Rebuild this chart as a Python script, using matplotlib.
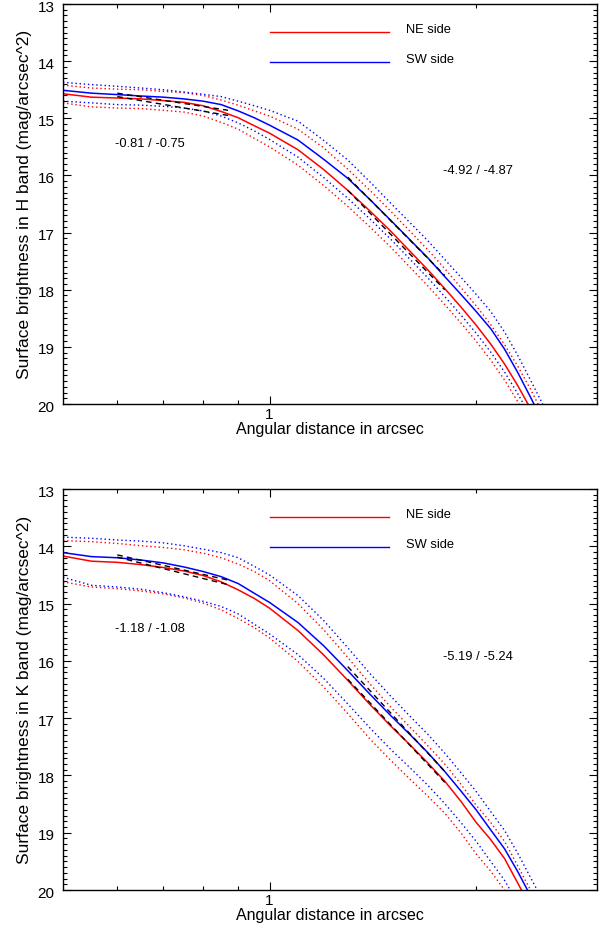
import numpy as np
import matplotlib.pyplot as plt
from matplotlib.ticker import FixedLocator, FixedFormatter, MultipleLocator
from matplotlib.transforms import ScaledTranslation

plt.rcParams['font.family'] = ['Liberation Sans', 'DejaVu Sans']

# radius grid (arcsec), shared by all profiles
radius = [0.5, 0.55, 0.6, 0.65, 0.7, 0.75, 0.8, 0.85, 0.9, 0.95, 1.0,
          1.1, 1.2, 1.3, 1.4, 1.5, 1.6, 1.7, 1.8, 1.9, 2.0, 2.1, 2.2, 2.3, 2.4, 2.5]

# H band (mag/arcsec^2)
h_ne = [14.57, 14.63, 14.645, 14.66, 14.69, 14.72, 14.78, 14.88, 14.99, 15.13, 15.26,
        15.55, 15.90, 16.26, 16.62, 16.97, 17.32, 17.65, 17.98, 18.30, 18.62, 18.95, 19.30, 19.68, 20.08, 20.5]
h_sw = [14.51, 14.56, 14.585, 14.61, 14.63, 14.66, 14.70, 14.76, 14.87, 14.99, 15.12,
        15.38, 15.72, 16.05, 16.42, 16.78, 17.12, 17.44, 17.77, 18.08, 18.38, 18.68, 19.04, 19.45, 19.88, 20.3]
h_ne_hi = [14.42, 14.47, 14.49, 14.50, 14.53, 14.55, 14.60, 14.68, 14.77, 14.87, 14.96,
           15.19, 15.52, 15.89, 16.26, 16.62, 16.97, 17.30, 17.63, 17.96, 18.28, 18.61, 18.96, 19.34, 19.74, 20.16]
h_ne_lo = [14.73, 14.80, 14.82, 14.83, 14.86, 14.89, 14.96, 15.07, 15.19, 15.35, 15.50,
           15.82, 16.18, 16.54, 16.90, 17.25, 17.60, 17.93, 18.26, 18.58, 18.90, 19.23, 19.58, 19.96, 20.36, 20.78]
h_sw_hi = [14.37, 14.41, 14.44, 14.47, 14.50, 14.54, 14.58, 14.62, 14.70, 14.78, 14.86,
           15.05, 15.39, 15.73, 16.11, 16.48, 16.82, 17.14, 17.47, 17.78, 18.08, 18.38, 18.74, 19.15, 19.58, 20.0]
h_sw_lo = [14.70, 14.73, 14.76, 14.77, 14.79, 14.82, 14.87, 14.96, 15.08, 15.22, 15.37,
           15.68, 16.04, 16.40, 16.76, 17.11, 17.46, 17.79, 18.12, 18.44, 18.76, 19.09, 19.44, 19.82, 20.22, 20.64]

# K band (mag/arcsec^2)
k_ne = [14.17, 14.26, 14.28, 14.32, 14.37, 14.43, 14.51, 14.62, 14.76, 14.91, 15.08,
        15.47, 15.90, 16.34, 16.76, 17.13, 17.46, 17.78, 18.10, 18.45, 18.82, 19.12, 19.45, 19.88, 20.3, 20.7]
k_sw = [14.11, 14.18, 14.20, 14.24, 14.29, 14.36, 14.44, 14.53, 14.65, 14.82, 14.98,
        15.33, 15.74, 16.17, 16.58, 16.95, 17.28, 17.60, 17.93, 18.27, 18.60, 18.95, 19.28, 19.68, 20.1, 20.5]
k_ne_hi = [13.90, 13.92, 13.95, 13.99, 14.02, 14.06, 14.12, 14.20, 14.31, 14.44, 14.60,
           15.00, 15.46, 15.94, 16.40, 16.80, 17.15, 17.48, 17.80, 18.15, 18.52, 18.82, 19.15, 19.58, 20.0, 20.4]
k_ne_lo = [14.62, 14.71, 14.74, 14.78, 14.83, 14.90, 14.99, 15.11, 15.26, 15.42, 15.60,
           16.01, 16.46, 16.92, 17.36, 17.73, 18.06, 18.36, 18.66, 19.00, 19.37, 19.67, 20.00, 20.43, 20.85, 21.25]
k_sw_hi = [13.84, 13.86, 13.89, 13.91, 13.94, 13.99, 14.05, 14.11, 14.20, 14.35, 14.50,
           14.86, 15.30, 15.77, 16.22, 16.61, 16.96, 17.28, 17.61, 17.95, 18.28, 18.63, 18.96, 19.36, 19.78, 20.18]
k_sw_lo = [14.54, 14.68, 14.71, 14.75, 14.81, 14.88, 14.96, 15.05, 15.18, 15.36, 15.53,
           15.89, 16.31, 16.75, 17.17, 17.54, 17.86, 18.17, 18.49, 18.82, 19.15, 19.50, 19.83, 20.23, 20.65, 21.05]

# power-law fits: radius range and end magnitudes
fit_in_r = [0.6, 0.87]
fit_out_r = [1.3, 1.8]
h_fits = {'ne_in': [14.62, 14.95], 'sw_in': [14.56, 14.86],
          'ne_out': [16.26, 18.00], 'sw_out': [16.03, 17.75]}
k_fits = {'ne_in': [14.19, 14.67], 'sw_in': [14.15, 14.59],
          'ne_out': [16.32, 18.12], 'sw_out': [16.10, 17.93]}

h_slopes = ['-0.81 / -0.75', '-4.92 / -4.87']
k_slopes = ['-1.18 / -1.08', '-5.19 / -5.24']

dot = (0, (1, 2))
dash = (0, (4, 3))

fig = plt.figure(figsize=(6.15, 9.35), dpi=100)


def panel(rect, band, ne, sw, ne_hi, ne_lo, sw_hi, sw_lo, fits, slopes):
    ax = fig.add_axes(rect)
    ax.plot(radius, ne_hi, color='red', lw=1, ls=dot)
    ax.plot(radius, ne_lo, color='red', lw=1, ls=dot)
    ax.plot(radius, sw_hi, color='blue', lw=1, ls=dot)
    ax.plot(radius, sw_lo, color='blue', lw=1, ls=dot)
    ax.plot(radius, ne, color='red', lw=1.1)
    ax.plot(radius, sw, color='blue', lw=1.1)
    for key in ['ne_in', 'sw_in']:
        ax.plot(fit_in_r, fits[key], color='black', lw=1, ls=dash)
    for key in ['ne_out', 'sw_out']:
        ax.plot(fit_out_r, fits[key], color='black', lw=1, ls=dash)

    ax.set_xscale('log')
    ax.set_xlim(0.5, 3.0)
    ax.set_ylim(20, 13)
    ax.xaxis.set_major_locator(FixedLocator([1]))
    ax.xaxis.set_major_formatter(FixedFormatter(['1']))
    ax.xaxis.set_minor_locator(FixedLocator([0.6, 0.7, 0.8, 0.9, 2]))
    ax.xaxis.set_minor_formatter(FixedFormatter([]))
    ax.yaxis.set_major_locator(MultipleLocator(1))
    ax.yaxis.set_minor_locator(MultipleLocator(0.1))
    ax.tick_params(which='both', direction='in', top=True, right=True, width=0.8)
    ax.tick_params(which='major', length=6, labelsize=11)
    ax.tick_params(which='minor', length=3)
    ax.tick_params(axis='y', pad=6)
    ax.tick_params(axis='x', pad=3)
    for s in ax.spines.values():
        s.set_linewidth(1)
    # IDL puts the y labels a touch below their ticks
    shift = ScaledTranslation(0, -1.5 / 72, fig.dpi_scale_trans)
    for lab in ax.get_yticklabels():
        lab.set_transform(lab.get_transform() + shift)

    ax.set_xlabel('Angular distance in arcsec', fontsize=11.5, labelpad=0)
    ax.set_ylabel('Surface brightness in %s band (mag/arcsec^2)' % band, fontsize=12.5, labelpad=4)

    # legend drawn IDL-style inside the box
    ax.plot([0.388, 0.610], [0.93, 0.93], color='red', lw=1, transform=ax.transAxes)
    ax.plot([0.388, 0.610], [0.855, 0.855], color='blue', lw=1, transform=ax.transAxes)
    ax.text(0.642, 0.935, 'NE side', fontsize=9.3, va='center', transform=ax.transAxes)
    ax.text(0.642, 0.86, 'SW side', fontsize=9.3, va='center', transform=ax.transAxes)

    ax.text(0.163, 0.65, slopes[0], fontsize=9.3, ha='center', va='center', transform=ax.transAxes)
    ax.text(0.777, 0.582, slopes[1], fontsize=9.3, ha='center', va='center', transform=ax.transAxes)
    return ax


panel([0.1024, 0.5679, 0.8683, 0.4278], 'H', h_ne, h_sw, h_ne_hi, h_ne_lo, h_sw_hi, h_sw_lo,
      h_fits, h_slopes)
panel([0.1024, 0.0481, 0.8683, 0.4289], 'K', k_ne, k_sw, k_ne_hi, k_ne_lo, k_sw_hi, k_sw_lo,
      k_fits, k_slopes)

fig.savefig('out.png', dpi=100)
